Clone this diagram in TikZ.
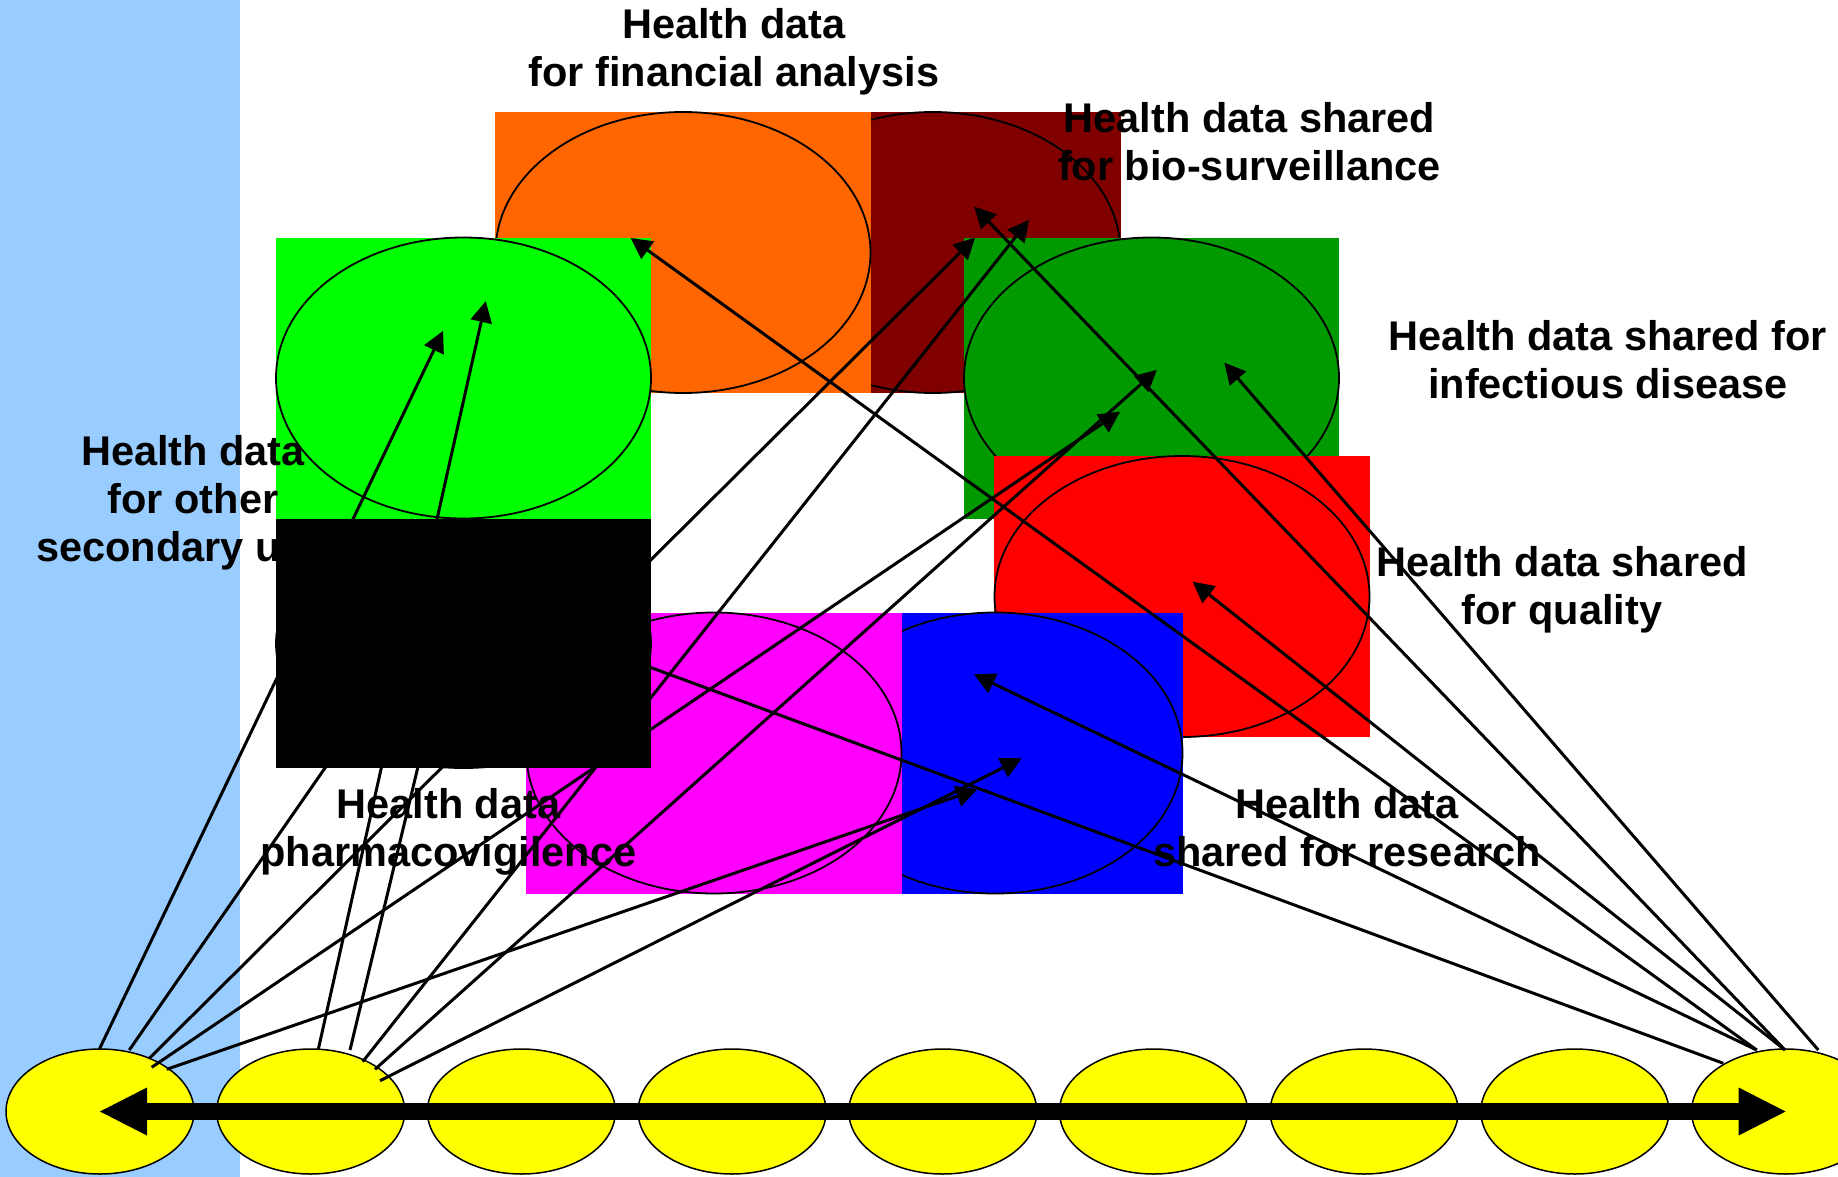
\documentclass[tikz,border=0pt]{standalone}
\usepackage{fontspec}
\setmainfont{Liberation Sans}
\usetikzlibrary{arrows.meta,shapes.geometric}
\definecolor{bandblue}{HTML}{99CCFF}
\definecolor{orangefill}{HTML}{FF6600}
\definecolor{darkredfill}{HTML}{800000}
\definecolor{greenfill}{HTML}{00FF00}
\definecolor{darkgreenfill}{HTML}{009900}
\definecolor{redfill}{HTML}{FF0000}
\definecolor{magentafill}{HTML}{FF00FF}
\definecolor{bluefill}{HTML}{0000FF}
\definecolor{dotyellow}{HTML}{FFFF00}
\begin{document}
\begin{tikzpicture}[x=1pt,y=-1pt,
  box/.style={rectangle, inner sep=0pt, outer sep=0pt, minimum width=375.5pt, minimum height=281pt, draw=none},
  oval/.style={ellipse, inner sep=0pt, outer sep=0pt, minimum width=375pt, minimum height=281pt, draw=black, line width=1.8pt},
  disc/.style={ellipse, inner sep=0pt, outer sep=0pt, minimum width=188pt, minimum height=125pt, fill=dotyellow, draw=black, line width=1.5pt},
  lbl/.style={font=\fontsize{41.5pt}{48pt}\selectfont\bfseries, align=center, inner sep=0pt, anchor=base},
  link/.style={line width=3pt, -{Triangle[length=21pt,width=22pt,line width=0pt]}},
  axis/.style={line width=16.4pt, {Triangle[length=47pt,width=48pt,line width=0pt]}-{Triangle[length=47pt,width=48pt,line width=0pt]}}
]
\useasboundingbox (0,0) rectangle (1838,1177);
% light blue band
\fill[bandblue] (0,0) rectangle (240,1177);

% coloured boxes with ovals
\node[box, fill=darkredfill] (darkredbox) at (933,252.5) {};
\node[oval] (darkredoval) at (933,252.5) {};
\node[box, fill=orangefill] (orangebox) at (683,252.5) {};
\node[oval] (orangeoval) at (683,252.5) {};
\node[box, fill=darkgreenfill] (darkgreenbox) at (1151.5,378) {};
\node[oval] (darkgreenoval) at (1151.5,378) {};
\node[box, fill=redfill] (redbox) at (1182,596.5) {};
\node[oval] (redoval) at (1182,596.5) {};
\node[box, fill=bluefill] (bluebox) at (995,753) {};
\node[oval] (blueoval) at (995,753) {};
\node[box, fill=magentafill] (magentabox) at (714,753) {};
\node[oval] (magentaoval) at (714,753) {};
\node[box, fill=greenfill] (greenbox) at (463.5,378) {};
\node[oval] (greenoval) at (463.5,378) {};

% labels (anchor = baseline of the last line)
\node[lbl] (lfin) at (734,87) {Health data\\for financial analysis};
\node[lbl] (lbio) at (1249.5,181) {Health data shared\\for bio-surveillance};
\node[lbl] (linf) at (1608,398) {Health data shared for\\infectious disease};
\node[lbl] (lqual) at (1562,624) {Health data shared\\for quality};
\node[lbl] (lres) at (1347,866) {Health data\\shared for research};
\node[lbl] (lpharm) at (448.5,866) {Health data\\pharmacovigilence};
\node[lbl] (lother) at (193,561) {Health data\\for other\\secondary uses};

% black box over the label
\node[box, fill=black, minimum height=249pt] (blackbox) at (463.5,643.5) {};
\node[oval, minimum height=249pt] (blackoval) at (463.5,643.5) {};

% yellow discs
\foreach \i in {1,...,9} {
  \node[disc] (c\i) at ({100+210.7*(\i-1)},1111.5) {};
}

% start points on the discs
\coordinate (s1a) at (99.3,1049.3);
\coordinate (s1b) at (129.3,1050);
\coordinate (s1c) at (149.3,1058.3);
\coordinate (s1d) at (151.7,1067.3);
\coordinate (s1e) at (166.7,1069.3);
\coordinate (s2a) at (318.3,1049.3);
\coordinate (s2b) at (350,1050);
\coordinate (s2c) at (362.7,1061.7);
\coordinate (s2d) at (375,1069.3);
\coordinate (s2e) at (380,1080.7);
\coordinate (s9a) at (1723.3,1063.3);
\coordinate (s9b) at (1756.7,1050);
\coordinate (s9c) at (1785,1050);
\coordinate (s9d) at (1818.3,1050);

% arrow tips
\coordinate (tG1) at (443,331);
\coordinate (tG2) at (485.8,301.2);
\coordinate (tK1) at (445,595);
\coordinate (tK2) at (467.6,560);
\coordinate (tK9) at (560,634);
\coordinate (tDR1) at (975,237.7);
\coordinate (tDR2) at (1029,220);
\coordinate (tDR9) at (974.3,206.7);
\coordinate (tDG1) at (1120,411.7);
\coordinate (tDG2) at (1156.7,370);
\coordinate (tDG9) at (1224.3,362.7);
\coordinate (tB1) at (977.3,789.3);
\coordinate (tB2) at (1021.7,758.3);
\coordinate (tB9) at (974,674.3);
\coordinate (tO9) at (630.7,238);
\coordinate (tR9) at (1192.7,581.7);

% connectors
\draw[link] (s1a) -- (tG1);
\draw[link] (s1b) -- (tK1);
\draw[link] (s1c) -- (tDR1);
\draw[link] (s1d) -- (tDG1);
\draw[link] (s1e) -- (tB1);
\draw[link] (s2a) -- (tG2);
\draw[link] (s2b) -- (tK2);
\draw[link] (s2c) -- (tDR2);
\draw[link] (s2d) -- (tDG2);
\draw[link] (s2e) -- (tB2);
\draw[link] (s9a) -- (tK9);
\draw[link] (s9b) -- (tO9);
\draw[link] (s9b) -- (tB9);
\draw[link] (s9c) -- (tR9);
\draw[link] (s9c) -- (tDR9);
\draw[link] (s9d) -- (tDG9);

% big double arrow along the discs
\draw[axis] (c1.center) -- (c9.center);
\end{tikzpicture}
\end{document}
